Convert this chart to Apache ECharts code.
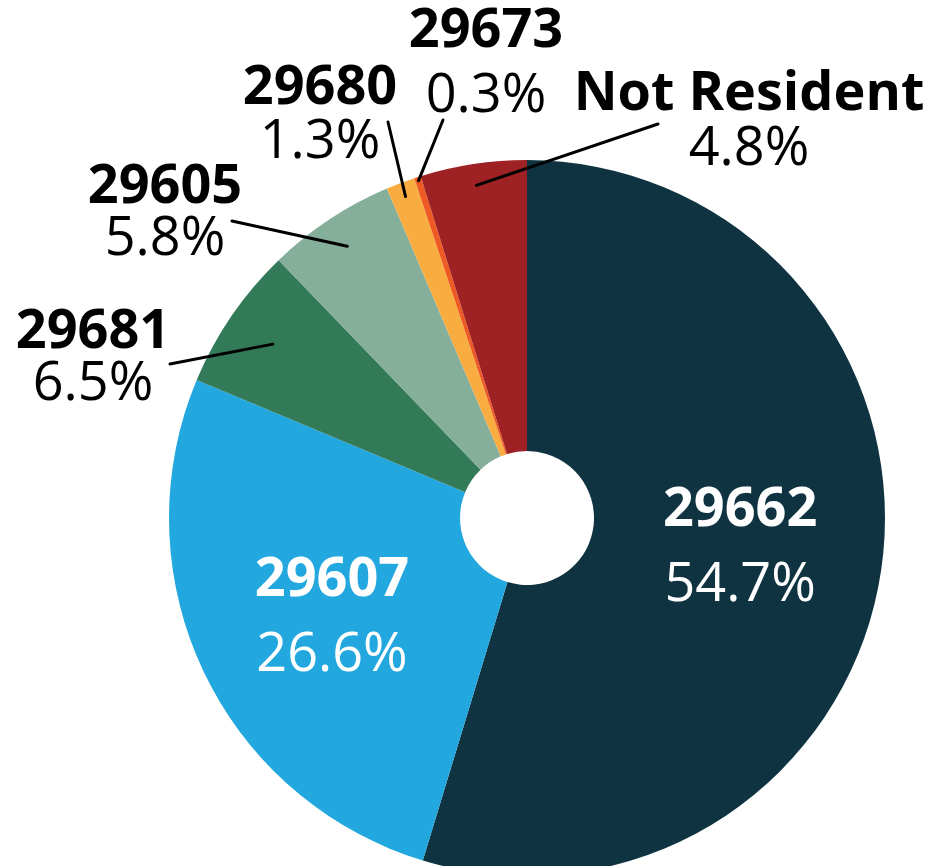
<!DOCTYPE html>
<html>
<head>
<meta charset="utf-8">
<script src="https://cdn.jsdelivr.net/npm/echarts@6/dist/echarts.min.js"></script>
<style>
html,body{margin:0;padding:0;background:#fff;}
#chart{width:932px;height:866px;}
</style>
</head>
<body>
<div id="chart"></div>
<script>
// ---- data ----
const categories = ['29662', '29607', '29681', '29605', '29680', '29673', 'Not Resident'];
const shares = [54.7, 26.6, 6.5, 5.8, 1.3, 0.3, 4.8];
const colors = ['#0f3341', '#23a7df', '#337a59', '#85ae9b', '#f9ad41', '#ee5a24', '#9e2123'];
const insideLabels = ['29662', '29607'];

// ---- layout (positions/styles only) ----
const CX = 527, CY = 518, R_IN = 67, R_OUT = 358;
const outsideLayout = {
  '29681':        { x: 93,  y: 359, end: [170, 364], rFrac: 0.86, lh: 52 },
  '29605':        { x: 165, y: 214, end: [232, 221], rFrac: 0.91, lh: 52 },
  '29680':        { x: 320, y: 116, end: [388, 122], rFrac: 0.96, lh: 54 },
  '29673':        { x: 486, y: 64,  end: [443, 120], rFrac: 0.99, lh: 65 },
  'Not Resident': { x: 749, y: 122, end: [658, 124], rFrac: 0.94, lh: 55 }
};
const insideDy = { '29662': -2, '29607': 8 };

const total = shares.reduce((a, b) => a + b, 0);
const midAngles = [];
(function () {
  let cum = 0;
  shares.forEach(v => { midAngles.push((cum + v / 2) / total * 2 * Math.PI); cum += v; });
})();

const FONT = '"Open Sans", "DejaVu Sans", sans-serif';
const FS = 54;

const data = categories.map((name, i) => {
  const inside = insideLabels.indexOf(name) >= 0;
  const lh = inside ? 75 : outsideLayout[name].lh;
  const col = inside ? '#fff' : '#000';
  return {
    name: name,
    value: shares[i],
    itemStyle: { color: colors[i] },
    label: {
      position: inside ? 'inside' : 'outside',
      color: col,
      rich: {
        b: { fontFamily: FONT, fontSize: FS, fontWeight: 'bold', color: col, lineHeight: lh },
        p: { fontFamily: FONT, fontSize: FS, color: col, lineHeight: lh }
      }
    },
    labelLine: { show: false }
  };
});

// leader lines: from a point inside each small slice (at its mid angle) to its label
const leaderLines = categories.map((name, i) => {
  const L = outsideLayout[name];
  if (!L) return null;
  const a = midAngles[i];
  const r = R_OUT * L.rFrac;
  return {
    type: 'line',
    z: 100,
    silent: true,
    shape: { x1: CX + r * Math.sin(a), y1: CY - r * Math.cos(a), x2: L.end[0], y2: L.end[1] },
    style: { stroke: '#000', lineWidth: 3, lineCap: 'round' }
  };
}).filter(Boolean);

const chart = echarts.init(document.getElementById('chart'), null, { renderer: 'canvas' });
chart.setOption({
  backgroundColor: '#fff',
  animation: false,
  graphic: { elements: leaderLines },
  series: [{
    type: 'pie',
    center: [CX, CY],
    radius: [R_IN, R_OUT],
    startAngle: 90,
    clockwise: true,
    avoidLabelOverlap: false,
    emphasis: { disabled: true },
    label: {
      show: true,
      align: 'center',
      formatter: p => '{b|' + p.name + '}\n{p|' + p.value.toFixed(1) + '%}'
    },
    labelLine: { show: false },
    labelLayout: function (params) {
      const name = categories[params.dataIndex];
      const L = outsideLayout[name];
      if (!L) return { dy: insideDy[name] || 0 };
      return { x: L.x, y: L.y, align: 'center', verticalAlign: 'middle' };
    },
    data: data
  }]
});
</script>
</body>
</html>
